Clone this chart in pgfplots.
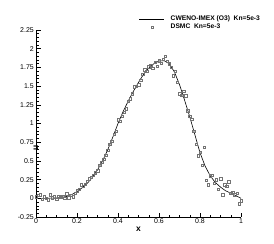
\documentclass[border=0pt]{standalone}
\usepackage{fontspec}
\setmainfont{Liberation Sans}
\usepackage{pgfplots}
\pgfplotsset{compat=1.18}
\pgfplotsset{
  lineleg/.style={legend image code/.code={\draw[##1] (0bp,0bp) -- (25bp,0bp);}},
  markleg/.style={legend image code/.code={\draw[##1] plot coordinates {(12.5bp,0bp)};}},
}
\begin{document}
\begin{tikzpicture}
\begin{axis}[
  name=ax,
  at={(0,0)}, anchor=south west,
  scale only axis,
  width=205bp, height=187bp,
  xmin=0, xmax=1, ymin=-0.25, ymax=2.25,
  axis x line*=bottom, axis y line*=left,
  axis line style={line width=0.6bp, -},
  tick align=inside,
  xtick={0,0.2,0.4,0.6,0.8,1},
  xticklabels={0,0.2,0.4,0.6,0.8,1},
  minor x tick num=3,
  ytick={-0.25,0,0.25,0.5,0.75,1,1.25,1.5,1.75,2,2.25},
  yticklabels={-0.25,0,0.25,0.5,0.75,1,1.25,1.5,1.75,2,2.25},
  minor y tick num=4,
  major tick length=4.5bp, minor tick length=2.5bp,
  tick style={line width=0.5bp, black},
  ticklabel style={font=\fontsize{7}{8}\selectfont},
  xticklabel style={inner sep=1.5bp},
  yticklabel style={inner sep=2bp},
  xlabel={\textbf{x}}, ylabel={\textbf{u}},
  label style={font=\fontsize{8.5}{9}\selectfont},
  xlabel style={at={(0.5,0)}, anchor=center, yshift=-12bp},
  ylabel style={at={(0,0.5)}, anchor=center, rotate=0, xshift=-24bp},
  clip=false,
  legend style={at={(rel axis cs:0.502,1.083)}, anchor=north west,
    draw=none, fill=none, inner sep=0pt, row sep=-0.5bp, column sep=5bp,
    nodes={inner sep=1bp, text height=5bp, text depth=1.5bp,
      font=\bfseries\fontsize{6.7}{8}\selectfont}},
  legend cell align=left,
]
\addplot[black, line width=0.6bp, mark=none, lineleg]
coordinates {
(0,0.0) (0.025,0.0) (0.05,0.0) (0.075,0.002) (0.1,0.005) (0.125,0.012)
(0.15,0.025) (0.175,0.05) (0.2,0.09) (0.225,0.14) (0.25,0.2) (0.275,0.28)
(0.3,0.38) (0.325,0.5) (0.35,0.65) (0.375,0.82) (0.4,1.0) (0.425,1.16)
(0.45,1.3) (0.475,1.43) (0.5,1.55) (0.525,1.66) (0.55,1.74) (0.575,1.80)
(0.6,1.835) (0.625,1.84) (0.65,1.80) (0.675,1.69) (0.7,1.52) (0.725,1.31)
(0.75,1.09) (0.775,0.85) (0.8,0.61) (0.825,0.43) (0.85,0.3) (0.875,0.21)
(0.9,0.15) (0.925,0.1) (0.95,0.07) (0.975,0.035) (1.0,0.0)
};
\addlegendentry{CWENO-IMEX (O3)\ \ Kn=5e-3}
\addplot[only marks, mark=square, mark size=1.2bp, color=black!55,
  mark options={line width=0.4bp}, markleg]
coordinates {
(0.0,0.02) (0.01,0.04) (0.02,0.05) (0.03,-0.01) (0.04,0.02) (0.05,0.0)
(0.06,-0.02) (0.07,0.05) (0.08,0.01) (0.09,0.02) (0.1,-0.01) (0.11,0.03)
(0.12,0.02) (0.13,0.03) (0.14,0.0) (0.15,0.06) (0.16,0.01) (0.17,0.04)
(0.18,0.02) (0.19,0.07) (0.2,0.1) (0.21,0.12) (0.22,0.18) (0.23,0.16)
(0.24,0.19) (0.25,0.23) (0.26,0.26) (0.27,0.28) (0.28,0.31) (0.29,0.34)
(0.3,0.37) (0.31,0.44) (0.32,0.48) (0.33,0.52) (0.34,0.58) (0.35,0.64)
(0.36,0.72) (0.37,0.76) (0.38,0.86) (0.39,0.9) (0.4,1.05) (0.41,1.03)
(0.42,1.1) (0.43,1.15) (0.44,1.2) (0.45,1.3) (0.46,1.33) (0.47,1.4)
(0.48,1.49) (0.49,1.5) (0.5,1.52) (0.51,1.58) (0.52,1.66) (0.53,1.72)
(0.54,1.7) (0.55,1.76) (0.56,1.78) (0.57,1.74) (0.58,1.82) (0.59,1.77)
(0.6,1.84) (0.61,1.81) (0.62,1.86) (0.63,1.9) (0.64,1.83) (0.65,1.8)
(0.66,1.75) (0.67,1.64) (0.68,1.7) (0.69,1.55) (0.7,1.4) (0.71,1.38)
(0.72,1.43) (0.73,1.37) (0.74,1.17) (0.75,1.1) (0.76,1.06) (0.77,0.9)
(0.78,0.72) (0.79,0.57) (0.8,0.62) (0.81,0.44) (0.82,0.68) (0.83,0.24)
(0.84,0.18) (0.85,0.3) (0.86,0.31) (0.87,0.2) (0.88,0.25) (0.89,0.12)
(0.9,0.26) (0.91,0.05) (0.92,0.18) (0.93,0.16) (0.94,0.22) (0.95,0.07)
(0.96,0.08) (0.97,0.05) (0.98,0.07) (0.99,-0.07) (1.0,-0.03)
};
\addlegendentry{DSMC\ \ Kn=5e-3}
\end{axis}
\pgfresetboundingbox
\path[use as bounding box] (ax.south west) ++(-36bp,-27bp) rectangle ++(274bp,244bp);
\end{tikzpicture}
\end{document}
